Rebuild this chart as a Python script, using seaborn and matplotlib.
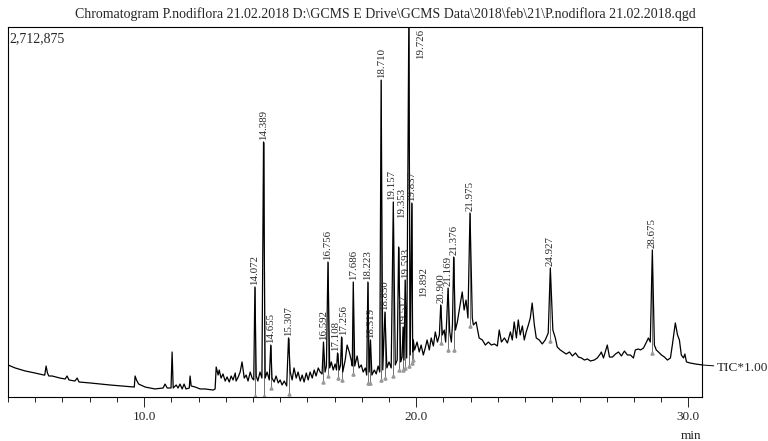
import numpy as np
import pandas as pd
import matplotlib
matplotlib.use("Agg")
import matplotlib.pyplot as plt
from matplotlib.ticker import MultipleLocator
import seaborn as sns

# TIC trace (retention time in min, intensity in thousands of counts)
rt = [
    5.00, 5.26, 5.63, 5.99, 6.32, 6.35, 6.40, 6.45, 6.50, 6.62, 6.91, 7.10, 7.17, 7.24,
    7.46, 7.54, 7.61, 8.01, 8.75, 9.60, 9.64, 9.67, 9.72, 9.80, 10.04, 10.40, 10.70, 10.77,
    10.85, 10.99, 11.03, 11.07, 11.18, 11.25, 11.32, 11.40, 11.47, 11.54, 11.66, 11.69, 11.73,
    11.88, 12.06, 12.24, 12.54, 12.61, 12.65, 12.72, 12.76, 12.83, 12.90, 12.98, 13.05, 13.13,
    13.20, 13.27, 13.35, 13.38, 13.46, 13.53, 13.60, 13.68, 13.75, 13.82, 13.90, 13.97, 14.03,
    14.072, 14.12, 14.18, 14.26, 14.33, 14.389, 14.45, 14.52, 14.60, 14.655, 14.70, 14.78,
    14.85, 14.93, 15.00, 15.07, 15.15, 15.24, 15.307, 15.37, 15.44, 15.51, 15.59, 15.66, 15.74,
    15.81, 15.88, 15.96, 16.03, 16.10, 16.18, 16.25, 16.32, 16.40, 16.47, 16.54, 16.592, 16.65,
    16.70, 16.756, 16.82, 16.88, 16.95, 17.02, 17.07, 17.108, 17.17, 17.22, 17.256, 17.30,
    17.39, 17.46, 17.54, 17.61, 17.65, 17.686, 17.74, 17.83, 17.90, 17.98, 18.05, 18.13, 18.18,
    18.223, 18.27, 18.319, 18.37, 18.46, 18.53, 18.60, 18.66, 18.710, 18.77, 18.850, 18.92,
    19.00, 19.08, 19.157, 19.23, 19.30, 19.353, 19.43, 19.48, 19.517, 19.55, 19.593, 19.65,
    19.726, 19.78, 19.837, 19.87, 19.892, 19.94, 20.03, 20.11, 20.18, 20.26, 20.33, 20.40,
    20.48, 20.55, 20.63, 20.70, 20.78, 20.85, 20.900, 20.96, 21.03, 21.08, 21.12, 21.169,
    21.23, 21.29, 21.33, 21.376, 21.44, 21.51, 21.58, 21.64, 21.69, 21.76, 21.83, 21.90,
    21.975, 22.06, 22.10, 22.20, 22.31, 22.43, 22.54, 22.65, 22.76, 22.87, 22.98, 23.05, 23.13,
    23.24, 23.35, 23.46, 23.53, 23.60, 23.68, 23.75, 23.82, 23.90, 23.97, 24.04, 24.12, 24.19,
    24.26, 24.34, 24.41, 24.52, 24.63, 24.74, 24.85, 24.927, 25.02, 25.11, 25.18, 25.29, 25.40,
    25.51, 25.63, 25.74, 25.85, 25.96, 26.07, 26.18, 26.29, 26.40, 26.54, 26.65, 26.76, 26.80,
    26.88, 27.02, 27.10, 27.21, 27.32, 27.43, 27.54, 27.65, 27.76, 27.87, 27.98, 28.05, 28.16,
    28.24, 28.35, 28.46, 28.53, 28.60, 28.675, 28.75, 28.82, 28.90, 29.01, 29.12, 29.23, 29.34,
    29.41, 29.52, 29.60, 29.67, 29.74, 29.82, 29.87, 29.93, 30.07, 30.26, 30.51,
]
intensity_k = [
    235, 213, 191, 176, 161, 161, 227, 176, 154, 154, 139, 132, 154, 125,
    117, 139, 110, 103, 88, 73, 73, 154, 125, 95, 73, 59, 66, 95,
    66, 66, 330, 66, 88, 66, 95, 59, 95, 59, 66, 154, 81,
    73, 59, 59, 51, 59, 220, 161, 198, 139, 169, 117, 147, 110,
    154, 125, 176, 117, 147, 183, 257, 139, 161, 117, 183, 139, 125,
    807, 154, 117, 183, 139, 1870, 139, 183, 125, 381, 139, 110,
    154, 103, 125, 88, 117, 81, 433, 183, 125, 213, 139, 183, 117,
    161, 110, 176, 125, 183, 139, 198, 154, 213, 183, 169, 403, 183,
    227, 990, 213, 257, 198, 242, 198, 323, 198, 235, 440, 183,
    271, 381, 330, 271, 227, 843, 227, 301, 213, 235, 183, 213, 161,
    843, 183, 418, 161, 198, 169, 227, 183, 2324, 198, 623, 213,
    257, 213, 1430, 235, 271, 1100, 257, 293, 513, 271, 858, 286,
    2713, 308, 1422, 330, 418, 345, 403, 330, 381, 308, 359, 418,
    345, 433, 374, 477, 403, 455, 675, 455, 491, 403, 565, 799,
    477, 403, 528, 1026, 491, 550, 638, 711, 770, 638, 711, 579,
    1349, 579, 528, 550, 433, 418, 381, 403, 381, 389, 374, 491, 403,
    433, 396, 477, 418, 550, 433, 565, 455, 521, 418, 477, 528, 579,
    689, 528, 433, 418, 389, 418, 469, 946, 491, 433, 367, 345, 330,
    315, 330, 301, 323, 293, 286, 271, 279, 264, 271, 286, 315, 330,
    286, 381, 293, 293, 315, 330, 301, 337, 308, 308, 286, 345, 352,
    345, 359, 403, 433, 403, 1078, 381, 345, 330, 308, 293, 271, 286,
    381, 543, 455, 418, 308, 286, 315, 257, 249, 242, 235,
]

# labelled peaks (retention times as printed above each peak)
peak_labels = [
    "14.072", "14.389", "14.655", "15.307", "16.592", "16.756", "17.108", "17.256",
    "17.686", "18.223", "18.319", "18.710", "18.850", "19.157", "19.353", "19.517",
    "19.593", "19.726", "19.837", "19.892", "20.900", "21.169", "21.376", "21.975",
    "24.927", "28.675",
]
full_scale = 2712875

title = ("Chromatogram P.nodiflora 21.02.2018 D:\\GCMS E Drive\\GCMS Data\\2018\\feb\\21\\"
         "P.nodiflora 21.02.2018.qgd")

df = pd.DataFrame({"rt": rt, "counts": np.array(intensity_k) * 1000})

sns.set_style("white")
plt.rcParams["font.family"] = ["Liberation Serif", "DejaVu Serif"]

fig = plt.figure(figsize=(7.68, 4.41), dpi=100)
ax = fig.add_axes([8 / 768, 44 / 441, 694 / 768, 370 / 441])

# peak top markers: thin grey line from each apex down a little below the local base
for lab in peak_labels:
    t = float(lab)
    near = df[(df["rt"] > t - 0.09) & (df["rt"] < t + 0.09)]
    base = near["counts"].min()
    low = 0 if lab in ("14.072", "14.389") else max(base - 70000, 0)
    ax.vlines(t, low, np.interp(t, df["rt"], df["counts"]), color="0.35", lw=0.6, zorder=1)
    ax.plot([t], [low + 10000], marker="^", ms=2.2, color="0.6", zorder=1)

sns.lineplot(data=df, x="rt", y="counts", ax=ax, color="black", linewidth=0.9,
             estimator=None, sort=False, zorder=2)

ax.set_xlim(5.0, 30.5)
ax.set_ylim(0, full_scale)
ax.set_xlabel("")
ax.set_ylabel("")
ax.set_yticks([])
ax.xaxis.set_major_locator(MultipleLocator(10))
ax.xaxis.set_minor_locator(MultipleLocator(1))
ax.xaxis.set_major_formatter(matplotlib.ticker.FormatStrFormatter("%.1f"))
ax.tick_params(axis="x", which="major", direction="out", length=7, width=0.7,
               labelsize=9.5, pad=3, bottom=True)
ax.tick_params(axis="x", which="minor", direction="out", length=3.5, width=0.7, bottom=True)
for s in ax.spines.values():
    s.set_color("black")
    s.set_linewidth(0.8)

# peak retention time labels
nudges = {"17.108": (-1.2, 1.5), "17.256": (1.2, 1.5), "19.157": (-1.2, 1.5),
          "19.353": (1.8, 21), "19.892": (7.5, 31)}
for lab in peak_labels:
    t = float(lab)
    h = np.interp(t, df["rt"], df["counts"])
    if lab == "19.726":
        ax.annotate(lab, (t, full_scale), xytext=(8.5, -1), textcoords="offset points",
                    rotation=90, ha="center", va="top", fontsize=7.8)
        continue
    dx, dy = nudges.get(lab, (0, 1.5))
    ax.annotate(lab, (t, h), xytext=(dx, dy), textcoords="offset points",
                rotation=90, ha="center", va="bottom", fontsize=7.8)

ax.text(0.002, 0.985, f"{full_scale:,}", transform=ax.transAxes, ha="left", va="top",
        fontsize=10)

ax.annotate("TIC*1.00", xy=(rt[-1], intensity_k[-1] * 1000), xycoords="data",
            xytext=(1.0216, 0.078), textcoords="axes fraction", ha="left", va="center",
            fontsize=9.5, annotation_clip=False,
            arrowprops=dict(arrowstyle="-", color="black", lw=0.7, shrinkA=0, shrinkB=0))

fig.text(0.502, 1 - 14 / 441, title, ha="center", va="center", fontsize=10)
fig.text(691 / 768, 1 - 436 / 441, "min", ha="center", va="center", fontsize=9.5)

fig.savefig("out.png", dpi=100)
